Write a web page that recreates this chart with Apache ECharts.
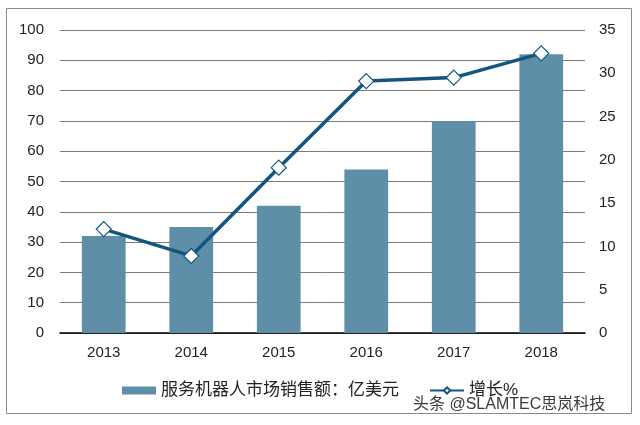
<!DOCTYPE html>
<html><head><meta charset="utf-8">
<script src="https://cdn.jsdelivr.net/npm/echarts@6/dist/echarts.min.js"></script>
<style>html,body{margin:0;padding:0;background:#fff}#c{width:640px;height:425px}</style>
</head><body><div id="c"></div>
<script>
const categories = ['2013','2014','2015','2016','2017','2018'];
const salesValues = [32, 35, 42, 54, 70, 92];
const growthValues = [12.0, 8.9, 19.1, 29.1, 29.5, 32.3];
const barName = '服务机器人市场销售额：亿美元';
const lineName = '增长%';
const watermark = '头条 @SLAMTEC思岚科技';

const font = 'Liberation Sans, Arial, Noto Sans CJK SC, sans-serif';
const chart = echarts.init(document.getElementById('c'));
chart.setOption({
  animation: false,
  textStyle: {fontFamily: font},
  grid: {left: 60, right: 55, top: 30, bottom: 92},
  legend: {
    left: 117, top: 377,
    itemGap: 30,
    textStyle: {fontSize: 17, color: '#222', fontFamily: font},
    data: [
      {name: barName, icon: 'rect', itemStyle: {color: '#5f8fa8'}},
      {name: lineName}
    ],
    itemWidth: 34, itemHeight: 8
  },
  graphic: [
    {type: 'rect', shape: {x: 6.5, y: 8.5, width: 625, height: 405}, style: {fill: 'none', stroke: '#8a8a8a', lineWidth: 1}, z: -1},
    {type: 'text', left: 413, top: 397, style: {text: watermark, fontSize: 16, fill: '#3a3a3a', fontFamily: font}}
  ],
  xAxis: {
    type: 'category', data: categories,
    axisLine: {lineStyle: {color: '#000', width: 1.5}},
    axisTick: {show: false},
    axisLabel: {fontSize: 15, color: '#222', margin: 12}
  },
  yAxis: [
    {type: 'value', min: 0, max: 100, interval: 10,
     axisLine: {show: false}, axisTick: {show: false},
     axisLabel: {fontSize: 15, color: '#222', margin: 16},
     splitLine: {lineStyle: {color: '#7a7a7a', width: 1}}},
    {type: 'value', min: 0, max: 35, interval: 5,
     axisLine: {show: false}, axisTick: {show: false},
     axisLabel: {fontSize: 15, color: '#222', margin: 14},
     splitLine: {show: false}}
  ],
  series: [
    {name: barName, type: 'bar', data: salesValues, barWidth: '50%',
     itemStyle: {color: '#5f8fa8'}},
    {name: lineName, type: 'line', yAxisIndex: 1, data: growthValues,
     symbol: 'diamond', symbolSize: 15,
     lineStyle: {color: '#13557f', width: 3.5},
     itemStyle: {color: '#fff', borderColor: '#13557f', borderWidth: 1.2}}
  ]
});
</script></body></html>
